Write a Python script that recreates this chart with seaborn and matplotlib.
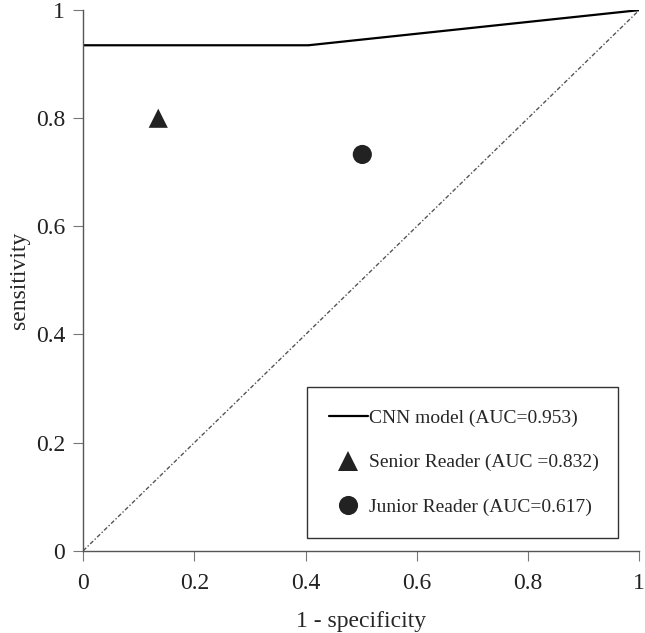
import matplotlib
matplotlib.use("Agg")
import matplotlib.pyplot as plt
import pandas as pd
import seaborn as sns

# ROC curve of the CNN model
cnn_fpr = [0.0, 0.405, 1.0]
cnn_tpr = [0.935, 0.935, 1.0]

# reader operating points
reader_names = ["Senior Reader (AUC =0.832)", "Junior Reader (AUC=0.617)"]
reader_fpr = [0.135, 0.502]
reader_tpr = [0.80, 0.733]

chance = [0.0, 1.0]
ticks = [0, 0.2, 0.4, 0.6, 0.8, 1]
tick_labels = ["0", "0.2", "0.4", "0.6", "0.8", "1"]

sns.set_style("ticks")
plt.rcParams['font.family'] = ['Liberation Serif', 'DejaVu Serif']

df_cnn = pd.DataFrame({'fpr': cnn_fpr, 'tpr': cnn_tpr})
df_read = pd.DataFrame({'fpr': reader_fpr, 'tpr': reader_tpr, 'reader': reader_names})

fig, ax = plt.subplots(figsize=(6.45, 6.33), dpi=100)
fig.subplots_adjust(left=0.129, right=0.991, bottom=0.13, top=0.984)

# chance diagonal
ax.plot(chance, chance, linestyle=(0, (3, 1.5, 1, 1.5)), color='#555555', linewidth=1.0)

sns.lineplot(data=df_cnn, x='fpr', y='tpr', ax=ax, color='black', linewidth=1.6,
             label="CNN model (AUC=0.953)", sort=False)
sns.scatterplot(data=df_read, x='fpr', y='tpr', style='reader',
                markers={reader_names[0]: '^', reader_names[1]: 'o'},
                color='#222222', s=190, edgecolor='none', ax=ax)

ax.set_xlim(0, 1)
ax.set_ylim(0, 1)
ax.set_xticks(ticks)
ax.set_xticklabels(tick_labels)
ax.set_yticks(ticks)
ax.set_yticklabels(tick_labels)
ax.tick_params(labelsize=17, colors='#222222', length=7, width=0.8, color='#777777')
ax.tick_params(axis='x', pad=9)
ax.tick_params(axis='y', pad=6)
for side in ['left', 'bottom']:
    ax.spines[side].set_color('#555555')
    ax.spines[side].set_linewidth(1.0)
sns.despine(ax=ax)

ax.set_xlabel("1 - specificity", fontsize=17, labelpad=12)
ax.set_ylabel("sensitivity", fontsize=17, labelpad=4)

handles, labels = ax.get_legend_handles_labels()
leg = ax.legend(handles, labels, loc='lower left',
                bbox_to_anchor=(0.403, 0.024, 0.559, 0.279), mode='expand',
                fontsize=14, frameon=True, fancybox=False, edgecolor='black',
                handlelength=2.0, handletextpad=0.1, labelspacing=1.4,
                borderpad=1.1, borderaxespad=0)
leg.get_frame().set_linewidth(1.0)

fig.savefig("out.png", dpi=100)
